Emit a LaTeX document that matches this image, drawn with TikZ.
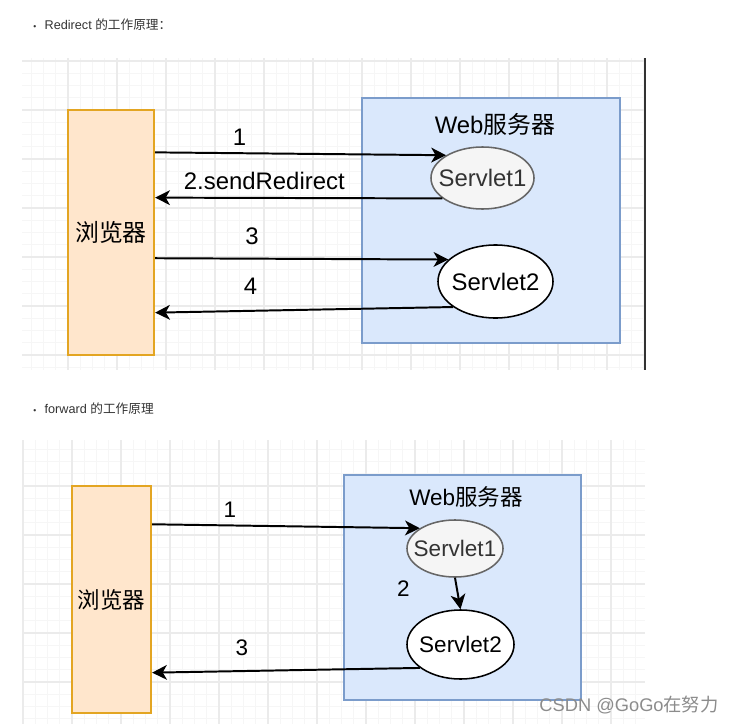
\documentclass[tikz,border=0pt]{standalone}
\usepackage{fontspec}
\setmainfont{Liberation Sans}
\newfontfamily\cjk{Noto Sans CJK SC}
\usetikzlibrary{shapes.geometric,arrows.meta,calc,positioning}

\definecolor{gridminor}{HTML}{F6F6F6}
\definecolor{gridmajor}{HTML}{EBEBEB}
\definecolor{browserfill}{HTML}{FFE6CC}
\definecolor{browserline}{HTML}{E3A522}
\definecolor{serverfill}{HTML}{DAE8FC}
\definecolor{serverline}{HTML}{7B9CCB}
\definecolor{servletfill}{HTML}{F5F5F5}
\definecolor{servletline}{HTML}{666666}
\definecolor{servlettext}{HTML}{333333}
\definecolor{headtext}{HTML}{333333}

\tikzset{
    gridthin/.style={draw=gridminor, line width=0.5pt},
    gridthick/.style={draw=gridmajor, line width=0.8pt},
    browserbox/.style={draw=browserline, fill=browserfill, line width=1.6pt, inner sep=0pt},
    serverbox/.style={draw=serverline, fill=serverfill, line width=1.4pt, inner sep=0pt},
    servletone/.style={ellipse, draw=servletline, fill=servletfill, text=servlettext, line width=1.1pt, inner sep=0pt},
    servlettwo/.style={ellipse, draw=black, fill=white, line width=1.1pt, inner sep=0pt},
    flow/.style={line width=1.4pt, -{Stealth[length=10.5pt,width=10.5pt,inset=3pt]}},
    num/.style={inner sep=1pt},
    heading/.style={text=headtext, font=\fontsize{9}{10}\selectfont, anchor=west, inner sep=0pt},
    watermark/.style={text=black!45, font=\fontsize{13}{14}\selectfont, inner sep=0pt}
}

\begin{document}
\begin{tikzpicture}[x=0.025cm, y=-0.025cm]
    \useasboundingbox[fill=white] (0,0) rectangle (731,724);

    % Redirect
    \node[heading] (head1) at (33,25) {{\fontsize{6}{6}\selectfont •}\hspace{6pt}Redirect {\cjk 的工作原理：}};
    \begin{scope}
        \clip (22,58) rectangle (645,370);
        \foreach \gx in {19,31.25,...,650} \draw[gridthin] (\gx,58) -- (\gx,370);
        \foreach \gy in {48.75,61,...,375} \draw[gridthin] (22,\gy) -- (645,\gy);
        \foreach \gx in {19,68,...,650} \draw[gridthick] (\gx,58) -- (\gx,370);
        \foreach \gy in {61,110,...,375} \draw[gridthick] (22,\gy) -- (645,\gy);
    \end{scope}
    \draw[line width=1.6pt, black!80] (645,58) -- (645,370);
    \begin{scope}[
        font=\fontsize{17}{20}\selectfont
    ]
        \node[browserbox, minimum width=2.15cm, minimum height=6.125cm] (br1) at (111,232.5) {{\cjk 浏览器}};
        \node[serverbox, minimum width=6.45cm, minimum height=6.125cm] (web1) at (491,220.5) {};
        \node (web1name) at (495,124) {Web{\cjk 服务器}};
        \node[servletone, minimum width=2.575cm, minimum height=1.55cm] (sv1) at (482.5,178) {\makebox[0pt]{Servlet1}};
        \node[servlettwo, minimum width=2.875cm, minimum height=1.825cm] (sv2) at (495.5,281.5) {\makebox[0pt]{Servlet2}};
        \draw[flow] ($(br1.north east)!0.176!(br1.south east)$)
            -- node[num, pos=0.29, above=4pt] {1} (sv1.148);
        \draw[flow] (sv1.207)
            -- node[num, pos=0.62, above=4pt] {2.sendRedirect} ($(br1.north east)!0.359!(br1.south east)$);
        \draw[flow] ($(br1.north east)!0.604!(br1.south east)$)
            -- node[num, pos=0.33, above=8pt] {3} (sv2.155);
        \draw[flow] (sv2.211)
            -- node[num, pos=0.68, above=10pt] {4} ($(br1.north east)!0.824!(br1.south east)$);
    \end{scope}

    % forward
    \node[heading] (head2) at (33,409) {{\fontsize{6}{6}\selectfont •}\hspace{6pt}forward {\cjk 的工作原理}};
    \begin{scope}
        \clip (22,440) rectangle (645,724);
        \foreach \gx in {10.75,23,...,650} \draw[gridthin] (\gx,440) -- (\gx,724);
        \foreach \gy in {437,449.25,...,730} \draw[gridthin] (22,\gy) -- (645,\gy);
        \foreach \gx in {23,72,...,650} \draw[gridthick] (\gx,440) -- (\gx,724);
        \foreach \gy in {437,486,...,730} \draw[gridthick] (22,\gy) -- (645,\gy);
    \end{scope}
    \begin{scope}[
        font=\fontsize{16}{19}\selectfont
    ]
        \node[browserbox, minimum width=1.975cm, minimum height=5.675cm] (br2) at (111.5,599.5) {{\cjk 浏览器}};
        \node[serverbox, minimum width=5.925cm, minimum height=5.625cm] (web2) at (462.5,587.5) {};
        \node (web2name) at (466,497) {Web{\cjk 服务器}};
        \node[servletone, minimum width=2.4cm, minimum height=1.425cm] (sv3) at (455,548.5) {\makebox[0pt]{Servlet1}};
        \node[servlettwo, minimum width=2.675cm, minimum height=1.725cm] (sv4) at (460.5,644.5) {\makebox[0pt]{Servlet2}};
        \draw[flow] ($(br2.north east)!0.172!(br2.south east)$)
            -- node[num, pos=0.29, above=4pt] {1} (sv3.150);
        \draw[flow] (sv3.south)
            -- node[num, pos=0.35, left=32pt] {2} (sv4.north);
        \draw[flow] (sv4.210)
            -- node[num, pos=0.665, above=9pt] {3} ($(br2.north east)!0.819!(br2.south east)$);
    \end{scope}
    \node[watermark] (csdn) at (629,705) {CSDN @GoGo{\cjk 在努力}};
\end{tikzpicture}
\end{document}
